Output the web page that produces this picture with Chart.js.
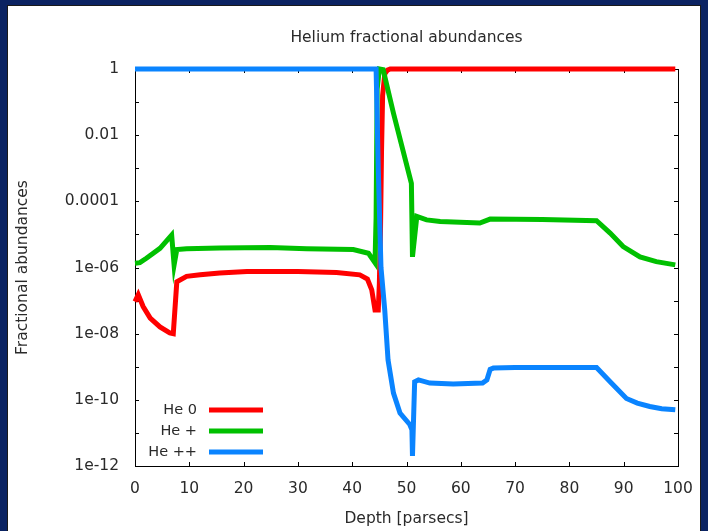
<!DOCTYPE html>
<html>
<head>
<meta charset="utf-8">
<title>Helium fractional abundances</title>
<script src="https://cdn.jsdelivr.net/npm/chart.js@4.4.1/dist/chart.umd.min.js"></script>
<style>
  html, body { margin: 0; padding: 0; }
  body { background: #0b2362; width: 708px; height: 531px; position: relative; overflow: hidden; }
  #sheet { position: absolute; left: 7px; top: 5px; width: 692px; height: 530px; background: #fff; border: 1px solid #1a1a1a; border-bottom: none; }
  #wrap { position: absolute; left: 0; top: 0; width: 708px; height: 531px; }
</style>
</head>
<body>
<div id="sheet"></div>
<div id="wrap"><canvas id="abundChart"></canvas></div>
<script>
// depth in parsecs, fractional abundance per ionisation stage
const depthHe0 = [0, 0.6, 1.5, 2.8, 4.6, 6.4, 7.05, 7.7, 9.5, 12, 15.6, 20.6, 30, 37.1, 41.4, 42.8, 43.6, 44.2, 44.8, 45.0, 45.2, 45.4, 45.6, 46.0, 46.5, 47.0, 99.5];
const he0 = [9.3e-8, 1.5e-7, 6.6e-8, 2.95e-8, 1.6e-8, 1.05e-8, 1.0e-8, 3.7e-7, 5.4e-7, 6.0e-7, 6.8e-7, 7.6e-7, 7.6e-7, 7.1e-7, 6.0e-7, 4.5e-7, 2.1e-7, 5.2e-8, 5.2e-8, 3.2e-7, 1.0e-5, 3.2e-3, 0.16, 0.71, 0.93, 1, 1];

const depthHe1 = [0, 0.9, 2.1, 4.6, 6.75, 7.2, 7.7, 9.5, 15.6, 24.9, 31.6, 40.2, 43.0, 44.2, 44.4, 44.6, 45.0, 45.7, 47.6, 50.9, 51.1, 51.9, 53.7, 56.2, 63.5, 65.4, 75, 85.0, 87.5, 89.9, 93.0, 96, 99.5];
const he1 = [1.35e-6, 1.4e-6, 1.9e-6, 3.8e-6, 9.5e-6, 1.2e-6, 3.5e-6, 3.7e-6, 3.9e-6, 4.0e-6, 3.7e-6, 3.5e-6, 2.7e-6, 1.4e-6, 3.2e-5, 0.25, 1, 0.95, 0.046, 3.5e-4, 2.1e-6, 3.5e-5, 2.75e-5, 2.45e-5, 2.2e-5, 2.9e-5, 2.8e-5, 2.6e-5, 1.1e-5, 4.3e-6, 2.1e-6, 1.5e-6, 1.2e-6];

const depthHe2 = [0, 44.4, 44.8, 45.3, 46.0, 46.6, 47.6, 48.8, 50.6, 51.0, 51.1, 51.5, 52.2, 54.3, 58.6, 64.0, 64.8, 65.4, 66.0, 70, 85, 87.5, 90.5, 92.5, 94.8, 97, 99.5];
const he2 = [1, 1, 1e-3, 1e-6, 5e-8, 1.6e-9, 1.6e-10, 4e-11, 1.8e-11, 1.25e-11, 2e-12, 3.5e-10, 4e-10, 3.2e-10, 3e-10, 3.2e-10, 4e-10, 8.3e-10, 9.1e-10, 9.5e-10, 9.5e-10, 3.5e-10, 1.1e-10, 8e-11, 6.3e-11, 5.4e-11, 5e-11];

const seriesLabels = ['He 0', 'He +', 'He ++'];
const seriesColors = ['#ff0000', '#00c000', '#0a84ff'];

// every decade gets a tick mark, every second one a label
const yTickValues = [1, 1e-1, 1e-2, 1e-3, 1e-4, 1e-5, 1e-6, 1e-7, 1e-8, 1e-9, 1e-10, 1e-11, 1e-12];
const yTickLabels = ['1', '', '0.01', '', '0.0001', '', '1e-06', '', '1e-08', '', '1e-10', '', '1e-12'];
const xTickStep = 10;

const font = { family: '"DejaVu Sans", Verdana, sans-serif', size: 15.5 };
const keyFont = '14.5px "DejaVu Sans", Verdana, sans-serif';
const textColor = '#2a2a2a';

function toPoints(xs, ys) {
  return xs.map((x, i) => ({ x: x, y: ys[i] }));
}

// frame around the plot with short inward ticks on all four sides
const frameTicks = {
  id: 'frameTicks',
  beforeDatasetsDraw(chart) {
    const { ctx, chartArea: a, scales } = chart;
    const len = 4;
    ctx.save();
    ctx.strokeStyle = '#000';
    ctx.lineWidth = 1;
    ctx.strokeRect(Math.round(a.left) + 0.5, Math.round(a.top) + 0.5, Math.round(a.right - a.left), Math.round(a.bottom - a.top));
    ctx.beginPath();
    scales.x.ticks.forEach(t => {
      const px = Math.round(scales.x.getPixelForValue(t.value)) + 0.5;
      ctx.moveTo(px, a.bottom); ctx.lineTo(px, a.bottom - len);
      ctx.moveTo(px, a.top); ctx.lineTo(px, a.top + len);
    });
    scales.y.ticks.forEach(t => {
      const py = Math.round(scales.y.getPixelForValue(t.value)) + 0.5;
      ctx.moveTo(a.left, py); ctx.lineTo(a.left + len, py);
      ctx.moveTo(a.right, py); ctx.lineTo(a.right - len, py);
    });
    ctx.stroke();
    ctx.restore();
  }
};

// key in the lower left: label first, then a sample of the line
const keyBox = {
  id: 'keyBox',
  afterDatasetsDraw(chart) {
    const { ctx } = chart;
    const textRight = 197, lineFrom = 209, lineTo = 263;
    const rows = [410, 431, 452];
    ctx.save();
    ctx.font = keyFont;
    ctx.textAlign = 'right';
    ctx.textBaseline = 'middle';
    chart.data.datasets.forEach((ds, i) => {
      ctx.fillStyle = textColor;
      ctx.fillText(ds.label, textRight, rows[i]);
      ctx.strokeStyle = ds.borderColor;
      ctx.lineWidth = 5;
      ctx.beginPath();
      ctx.moveTo(lineFrom, rows[i]);
      ctx.lineTo(lineTo, rows[i]);
      ctx.stroke();
    });
    ctx.restore();
  }
};

const ctx = document.getElementById('abundChart').getContext('2d');
const abundChart = new Chart(ctx, {
  type: 'line',
  data: {
    datasets: [
      { label: seriesLabels[0], data: toPoints(depthHe0, he0), borderColor: seriesColors[0], order: 3 },
      { label: seriesLabels[1], data: toPoints(depthHe1, he1), borderColor: seriesColors[1], order: 2 },
      { label: seriesLabels[2], data: toPoints(depthHe2, he2), borderColor: seriesColors[2], order: 1 }
    ]
  },
  options: {
    responsive: true,
    maintainAspectRatio: false,
    animation: false,
    events: [],
    layout: { padding: { top: 6, left: 8, right: 30, bottom: 0 } },
    datasets: {
      line: { borderWidth: 5, pointRadius: 0, tension: 0, clip: 6, fill: false }
    },
    plugins: {
      legend: { display: false },
      tooltip: { enabled: false },
      title: {
        display: true,
        text: 'Helium fractional abundances',
        fullSize: false,
        color: textColor,
        font: { family: font.family, size: font.size, weight: 'normal' },
        padding: { top: 22.2, bottom: 22.2 }
      }
    },
    scales: {
      x: {
        type: 'linear',
        min: 0,
        max: 100,
        ticks: { stepSize: xTickStep, color: textColor, font: font, padding: 13.2, maxRotation: 0 },
        grid: { display: false, drawTicks: false },
        border: { display: false },
        title: { display: true, text: 'Depth [parsecs]', color: textColor, font: font, padding: { top: 0, bottom: 2.7 } },
        afterFit(scale) { scale.height = 65; }
      },
      y: {
        type: 'logarithmic',
        min: 1e-12,
        max: 1,
        afterBuildTicks(scale) {
          scale.ticks = yTickValues.map(v => ({ value: v }));
        },
        ticks: {
          autoSkip: false,
          color: textColor,
          font: font,
          padding: 16,
          callback(value) {
            const i = Math.round(-Math.log10(value));
            return yTickLabels[i];
          }
        },
        grid: { display: false, drawTicks: false },
        border: { display: false },
        title: { display: true, text: 'Fractional abundances', color: textColor, font: font, padding: { top: 5.7, bottom: 0 } },
        afterFit(scale) { scale.width = 127; }
      }
    }
  },
  plugins: [frameTicks, keyBox]
});
</script>
</body>
</html>
